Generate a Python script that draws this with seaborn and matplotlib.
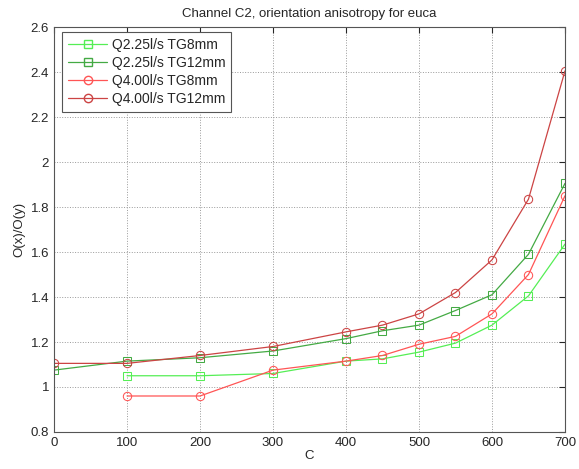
import matplotlib
matplotlib.use("Agg")
import matplotlib.pyplot as plt
from matplotlib.lines import Line2D
import seaborn as sns

# values
X_TG8 = [100, 200, 300, 400, 450, 500, 550, 600, 650, 700]
X_TG12 = [0, 100, 200, 300, 400, 450, 500, 550, 600, 650, 700]

Q225_TG8 = [1.05, 1.05, 1.06, 1.115, 1.125, 1.155, 1.195, 1.275, 1.405, 1.635]
Q225_TG12 = [1.075, 1.115, 1.13, 1.16, 1.215, 1.25, 1.275, 1.34, 1.41, 1.59, 1.905]
Q400_TG8 = [0.96, 0.96, 1.075, 1.115, 1.14, 1.19, 1.225, 1.325, 1.5, 1.85]
Q400_TG12 = [1.105, 1.105, 1.14, 1.18, 1.245, 1.275, 1.325, 1.42, 1.565, 1.835, 2.405]

SERIES = [
    ("Q2.25l/s TG8mm", X_TG8, Q225_TG8),
    ("Q2.25l/s TG12mm", X_TG12, Q225_TG12),
    ("Q4.00l/s TG8mm", X_TG8, Q400_TG8),
    ("Q4.00l/s TG12mm", X_TG12, Q400_TG12),
]
COLORS = ["#55ee55", "#44aa44", "#ff5555", "#cc4444"]
MARKERS = ["s", "s", "o", "o"]

sns.set_style("white")
plt.rcParams["font.family"] = ["Liberation Sans", "DejaVu Sans"]
plt.rcParams["font.size"] = 9.5

fig = plt.figure(figsize=(5.79, 4.69), dpi=100)
ax = fig.add_axes([0.0933, 0.0789, 0.8825, 0.8635])

# one call per series so colour/marker are fixed exactly
for (name, xs, ys), c, m in zip(SERIES, COLORS, MARKERS):
    sns.lineplot(x=xs, y=ys, color=c, marker=m, markersize=6,
                 markerfacecolor="none", markeredgecolor=c,
                 linewidth=0.9, ax=ax)

ax.set_xlim(0, 700)
ax.set_ylim(0.8, 2.6)
ax.set_xticks(range(0, 701, 100))
ax.set_yticks([0.8, 1, 1.2, 1.4, 1.6, 1.8, 2, 2.2, 2.4, 2.6])
ax.set_yticklabels(["0.8", "1", "1.2", "1.4", "1.6", "1.8", "2", "2.2", "2.4", "2.6"])
ax.grid(True, linestyle=":", color="#999999", linewidth=0.7)
ax.tick_params(direction="in", length=4, top=True, right=True, labelsize=9.5)
for sp in ax.spines.values():
    sp.set_color("#555555")
    sp.set_linewidth(0.8)

ax.set_xlabel("C", labelpad=1)
ax.set_ylabel("O(x)/O(y)", labelpad=4)
ax.set_title("Channel C2, orientation anisotropy for euca", fontsize=9.5, pad=7)

handles = [Line2D([], [], color=c, marker=m, markersize=6, markerfacecolor="none",
                  markeredgecolor=c, linewidth=0.9)
           for c, m in zip(COLORS, MARKERS)]
leg = ax.legend(handles, [s[0] for s in SERIES], loc="upper left",
                bbox_to_anchor=(0.016, 0.988), borderaxespad=0,
                frameon=True, fancybox=False, framealpha=1, edgecolor="#555555",
                handlelength=2.75, handletextpad=0.35, borderpad=0.45,
                labelspacing=0.28, fontsize=10)
leg.get_frame().set_linewidth(0.8)

fig.savefig("out.png", dpi=100)
